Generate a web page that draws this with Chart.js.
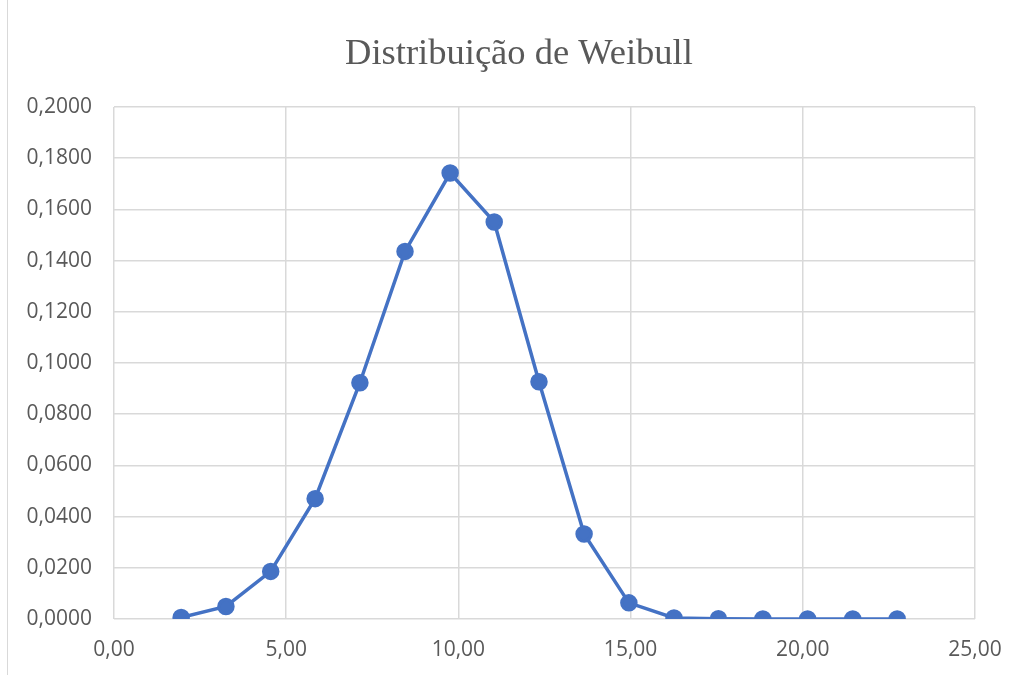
<!DOCTYPE html>
<html>
<head>
<meta charset="utf-8">
<script src="https://cdn.jsdelivr.net/npm/chart.js@4"></script>
<style>
html,body{margin:0;padding:0;background:#fff;}
#wrap{position:relative;width:1020px;height:675px;}
#frame{position:absolute;left:7px;top:0;width:0;height:675px;border-left:1px solid #d9d9d9;}
canvas{position:absolute;left:0;top:0;}
</style>
</head>
<body>
<div id="wrap"><div id="frame"></div><canvas id="c" width="1020" height="675"></canvas></div>
<script>
const titleText = "Distribuição de Weibull";
const xValues = [1.95, 3.25, 4.55, 5.84, 7.14, 8.45, 9.76, 11.04, 12.34, 13.65, 14.95, 16.26, 17.55, 18.84, 20.14, 21.45, 22.74];
const yValues = [0.0006, 0.0049, 0.0186, 0.0470, 0.0923, 0.1436, 0.1742, 0.1551, 0.0927, 0.0332, 0.0063, 0.0004, 0.0001, 0.0000, 0.0000, 0.0000, 0.0000];
const xAxisRange = [0, 25, 5];
const yAxisRange = [0, 0.2, 0.02];

const points = xValues.map((x, i) => ({x: x, y: yValues[i]}));
const tickFont = {family: "'Open Sans', sans-serif", size: 21};
const gray = '#595959';
const gridColor = '#d9d9d9';

// Shift the title block so it is centred like the reference
const titleShift = {
  id: 'titleShift',
  afterLayout(chart) {
    if (chart.titleBlock) {
      chart.titleBlock.left = 63;
      chart.titleBlock.right = 975;
      chart.titleBlock.width = 912;
    }
  }
};

new Chart(document.getElementById('c'), {
  type: 'scatter',
  data: {
    datasets: [{
      data: points,
      showLine: true,
      borderColor: '#4472C4',
      backgroundColor: '#4472C4',
      borderWidth: 3.5,
      pointRadius: 7,
      pointHoverRadius: 7,
      tension: 0
    }]
  },
  plugins: [titleShift],
  options: {
    responsive: false,
    animation: false,
    devicePixelRatio: 1,
    layout: {padding: {top: 0, right: 45, bottom: 0, left: 0}},
    plugins: {
      legend: {display: false},
      tooltip: {enabled: false},
      title: {
        display: true,
        text: titleText,
        color: gray,
        font: {family: "'Liberation Serif', 'Times New Roman', serif", size: 36.5, weight: 'normal'},
        padding: {top: 32.5, bottom: 30.7}
      }
    },
    scales: {
      x: {
        type: 'linear',
        min: xAxisRange[0], max: xAxisRange[1],
        grid: {color: gridColor, lineWidth: 1.5, drawTicks: false},
        border: {display: false},
        ticks: {
          stepSize: xAxisRange[2],
          color: gray, font: tickFont, padding: 18,
          maxRotation: 0,
          callback: v => v.toFixed(2).replace('.', ',')
        },
        afterFit: s => { s.height = 56; }
      },
      y: {
        type: 'linear',
        min: yAxisRange[0], max: yAxisRange[1],
        grid: {color: gridColor, lineWidth: 1.5, drawTicks: false},
        border: {display: false},
        ticks: {
          stepSize: yAxisRange[2],
          color: gray, font: tickFont, padding: 22,
          callback: v => v.toFixed(4).replace('.', ',')
        },
        afterFit: s => { s.width = 114; }
      }
    }
  }
});
</script>
</body>
</html>
